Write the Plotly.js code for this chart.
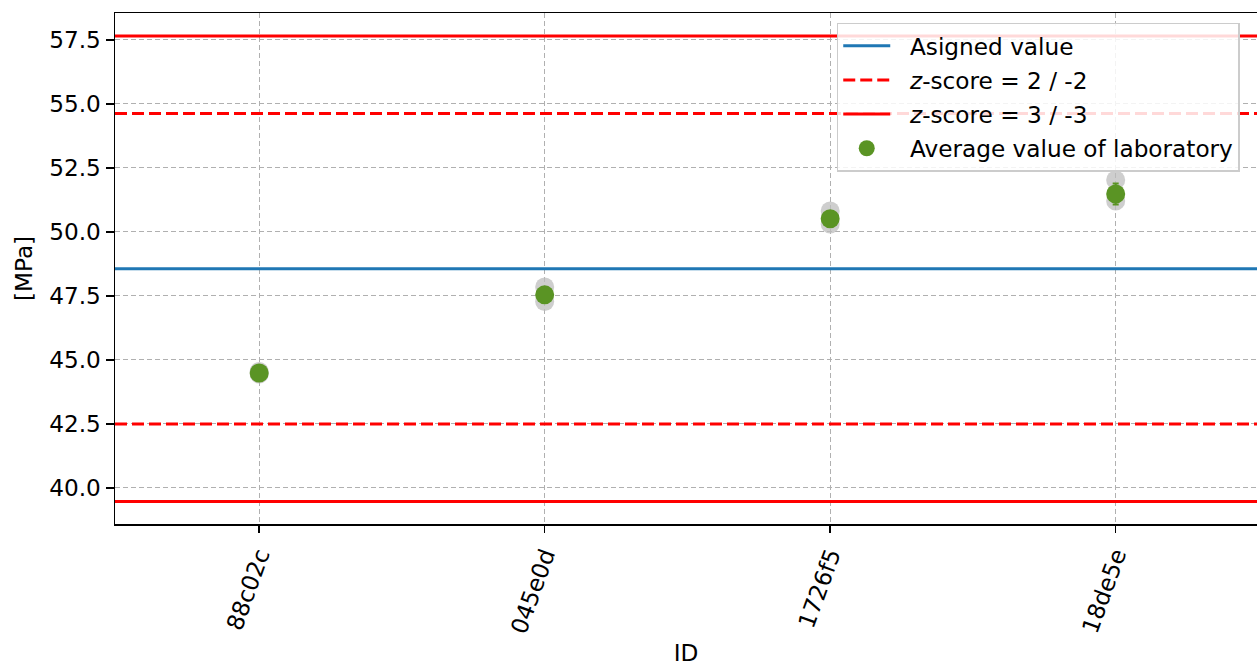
<!DOCTYPE html>
<html>
<head>
<meta charset="utf-8">
<script src="https://cdn.plot.ly/plotly-3.0.1.min.js"></script>
<style>html,body{margin:0;padding:0;background:#fff;}#chart{width:1257px;height:666px;}</style>
</head>
<body>
<div id="chart"></div>
<script>
// Data
const labIds = ["88c02c", "045e0d", "1726f5", "18de5e"];
const labMeans = [44.49, 47.54, 50.51, 51.48];
const labErr = [0.05, 0.28, 0.26, 0.41];
const measA = [44.45, 47.85, 50.82, 52.03];
const measB = [44.55, 47.28, 50.31, 51.21];
const assignedValue = 48.56;
const sigma = 3.03;

const z2Up = assignedValue + 2 * sigma, z2Lo = assignedValue - 2 * sigma;
const z3Up = assignedValue + 3 * sigma, z3Lo = assignedValue - 3 * sigma;

const font = "DejaVu Sans, sans-serif";
const fs = 23.2;
const grey = "rgba(190,190,190,0.75)";
const pad = "\u00a0\u00a0";

const traces = [
  {x: [0, 1], y: [assignedValue, assignedValue], xaxis: "x2", mode: "lines", legendgroup: "a",
   line: {color: "#1f77b4", width: 3}, name: pad + "Asigned value"},
  {x: [0, 1, null, 0, 1], y: [z2Up, z2Up, null, z2Lo, z2Lo], xaxis: "x2", mode: "lines", legendgroup: "b",
   line: {color: "#ff0000", width: 3, dash: "12px,5px"}, name: pad + "<i>z</i>-score = 2 / -2"},
  {x: [0, 1, null, 0, 1], y: [z3Up, z3Up, null, z3Lo, z3Lo], xaxis: "x2", mode: "lines", legendgroup: "c",
   line: {color: "#ff0000", width: 3}, name: pad + "<i>z</i>-score = 3 / -3"},
  {x: labIds, y: measA, mode: "markers", showlegend: false, hoverinfo: "skip",
   marker: {color: grey, size: 19}},
  {x: labIds, y: measB, mode: "markers", showlegend: false, hoverinfo: "skip",
   marker: {color: grey, size: 19}},
  {x: labIds, y: labMeans, mode: "markers", name: pad + "Average value of laboratory", legendgroup: "d",
   marker: {color: "#5a9424", size: 19},
   error_y: {type: "data", array: labErr, color: "#5a9424", thickness: 2, width: 3}}
];

const layout = {
  width: 1257, height: 666,
  margin: {l: 115, r: 0, t: 13, b: 142},
  paper_bgcolor: "#fff", plot_bgcolor: "#fff",
  font: {family: font, size: fs, color: "#000"},
  showlegend: true,
  legend: {x: 0.632, y: 0.981, xanchor: "left", yanchor: "top",
           bgcolor: "rgba(255,255,255,0.85)", bordercolor: "#cccccc", borderwidth: 1.5,
           font: {family: font, size: fs}, tracegroupgap: 1, itemwidth: 47},
  xaxis: {
    type: "category", categoryarray: labIds, categoryorder: "array",
    range: [-0.505, 3.495],
    showline: true, linecolor: "#000", linewidth: 1.5, mirror: true,
    ticks: "outside", ticklen: 7, tickwidth: 1.5, tickcolor: "#000",
    tickangle: -70, tickfont: {family: font, size: fs},
    showgrid: true, gridcolor: "#b0b0b0", gridwidth: 1, griddash: "5px,3px",
    zeroline: false,
    title: {text: "ID", font: {family: font, size: fs}, standoff: 12}
  },
  xaxis2: {overlaying: "x", range: [0, 1], visible: false, showgrid: false, zeroline: false},
  yaxis: {
    range: [38.59, 58.55],
    tickvals: [40, 42.5, 45, 47.5, 50, 52.5, 55, 57.5],
    ticktext: ["40.0", "42.5", "45.0", "47.5", "50.0", "52.5", "55.0", "57.5"],
    showline: true, linecolor: "#000", linewidth: 1.5, mirror: true,
    ticks: "outside", ticklen: 8, tickwidth: 1.5, tickcolor: "#000",
    tickfont: {family: font, size: fs},
    showgrid: true, gridcolor: "#b0b0b0", gridwidth: 1, griddash: "5px,3px",
    zeroline: false,
    title: {text: "[MPa]", font: {family: font, size: fs}, standoff: 10}
  }
};

Plotly.newPlot("chart", traces, layout, {displayModeBar: false, staticPlot: true});
</script>
</body>
</html>
